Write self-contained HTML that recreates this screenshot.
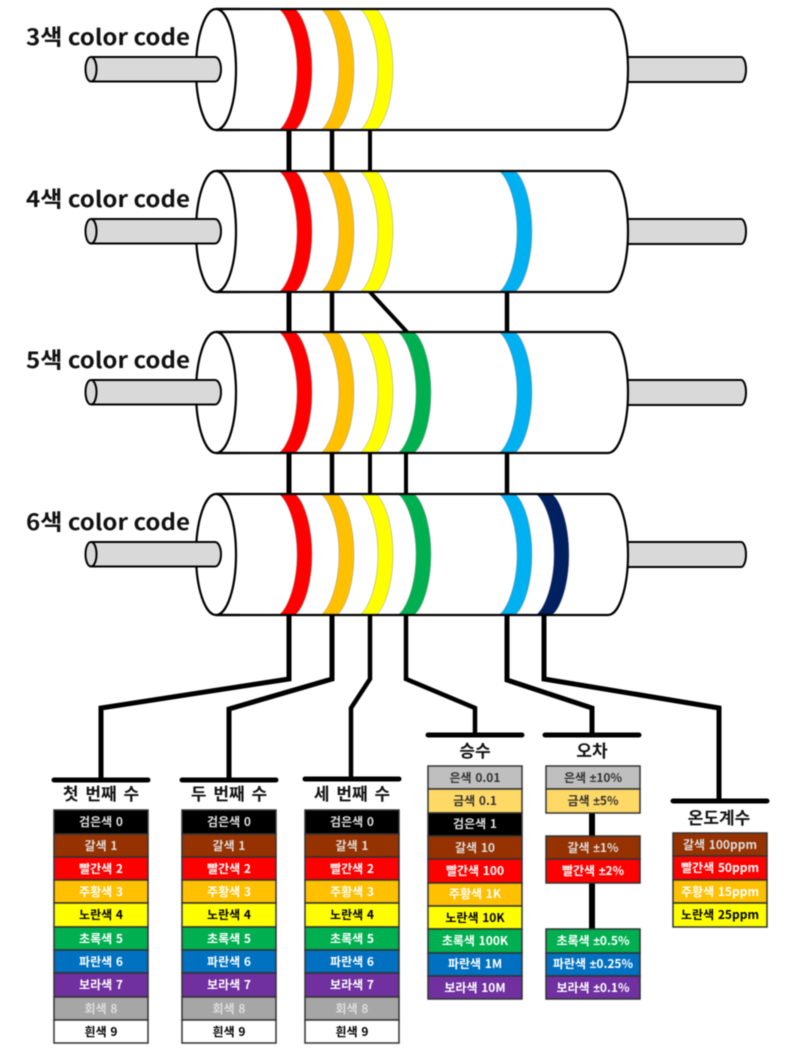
<!DOCTYPE html>
<html><head><meta charset="utf-8">
<style>
html,body{margin:0;padding:0;background:#fff;width:800px;height:1060px;overflow:hidden}
svg{display:block;filter:blur(0.45px)}
text{font-family:"Noto Sans CJK KR","Liberation Sans",sans-serif;font-weight:700;text-anchor:middle}
.lab{font-size:22px;text-anchor:start;fill:#111}
.ti{font-size:17px;fill:#111;word-spacing:3px}
.c text{font-size:12px;word-spacing:1px}
.c tspan{font-family:"Liberation Sans",sans-serif}
.w{fill:#fff}.k{fill:#000}.d{fill:#333}.g{fill:#ddd}
.r rect{stroke:#333;stroke-width:1.5}
</style></head><body>
<svg width="800" height="1060" viewBox="0 0 800 1060" xmlns="http://www.w3.org/2000/svg">
<defs>
<g id="rightlead"><path d="M626,57H741A5,12.500 0 0 1 741,82H626Z" fill="#d9d9d9" stroke="#000" stroke-width="2"/></g>
<g id="body">
<path d="M216,9H608A20,60.500 0 0 1 608,130H216Z" fill="#fff"/>
</g>
<g id="outline">
<path d="M216,9H608A20,60.500 0 0 1 608,130H216" fill="none" stroke="#000" stroke-width="2.2"/>
<ellipse cx="216" cy="69.500" rx="20" ry="60.500" fill="#fff" stroke="#000" stroke-width="2.2"/>
<path d="M216,9H240M216,130H240" stroke="#000" stroke-width="2.200"/>
<path d="M91,57H215A6,12.250 0 0 1 215,81.500H91" fill="#d9d9d9" stroke="#000" stroke-width="2"/>
<ellipse cx="91" cy="69.250" rx="5.500" ry="12.250" fill="#d9d9d9" stroke="#000" stroke-width="2"/>
</g>
<path id="band" d="M0,9.500c7.500,5.500 17.500,29 17.500,60c0,31 -10,54.500 -17.500,60h16c7.500,-5.500 16.500,-29 16.500,-60c0,-31 -9,-54.500 -16.500,-60z" stroke="#999" stroke-width=".5"/>
<g id="bands3">
<use href="#band" x="279.500" fill="#f00"/>
<use href="#band" x="321.500" fill="#ffc000"/>
<use href="#band" x="360.500" fill="#ff0"/>
</g>
<use id="bl" href="#band" x="499.500" fill="#00b0f0"/>
<use id="gr" href="#band" x="398.500" fill="#00b050"/>
</defs>

<!-- connectors -->
<g fill="none" stroke="#000" stroke-linejoin="miter">
<path stroke-width="5" d="M289,130V171M289,292V332M289,453V494"/>
<path stroke-width="4.500" d="M332,130V171M332,292V332M332,453V494"/>
<path stroke-width="4" d="M370,130V171M370,453V494M406,453V494"/>
<path stroke-width="4" d="M370,292L407,332"/>
<path stroke-width="4.500" d="M507,292V332M507,453V494"/>
<path stroke-width="5" d="M289,614V679L101,708V779"/>
<path stroke-width="5" d="M332,614V679L229,709V779"/>
<path stroke-width="4.500" d="M370,614V679L351,708V779"/>
<path stroke-width="4.500" d="M406,614V679L475,708V735"/>
<path stroke-width="5" d="M507,614V680L592,708V735"/>
<path stroke-width="5" d="M544,614V679L719,708V801"/>
<path stroke-width="6" d="M592,813V929"/>
</g>
<g stroke="#000" stroke-width="5" stroke-linecap="round">
<path d="M54,780H148M182,780H276M305,779H399M428,735H522M545,735H639M673,801H767"/>
</g>

<!-- resistor 1 -->
<g>
<use href="#rightlead"/><use href="#body"/><use href="#bands3"/>
<use href="#outline"/>
</g>
<!-- resistor 2 -->
<g transform="translate(0,162)">
<use href="#rightlead"/><use href="#body"/><use href="#bands3"/><use href="#bl"/>
<use href="#outline"/>
</g>
<!-- resistor 3 -->
<g transform="translate(0,323)">
<use href="#rightlead"/><use href="#body"/><use href="#bands3"/><use href="#bl"/><use href="#gr"/>
<use href="#outline"/>
</g>
<!-- resistor 4 -->
<g transform="translate(0,485)">
<use href="#rightlead"/><use href="#body"/><use href="#bands3"/><use href="#bl"/><use href="#gr"/>
<use href="#band" x="536.500" fill="#002060"/>
<use href="#outline"/>
</g>

<!-- labels -->
<text class="lab" x="26" y="45" textLength="164" lengthAdjust="spacingAndGlyphs">3색 color code</text>
<text class="lab" x="26" y="207" textLength="164" lengthAdjust="spacingAndGlyphs">4색 color code</text>
<text class="lab" x="26" y="368" textLength="164" lengthAdjust="spacingAndGlyphs">5색 color code</text>
<text class="lab" x="26" y="530" textLength="164" lengthAdjust="spacingAndGlyphs">6색 color code</text>

<text class="ti" x="101" y="800">첫 번째 수</text>
<text class="ti" x="229" y="800">두 번째 수</text>
<text class="ti" x="352" y="800">세 번째 수</text>
<text class="ti" x="475" y="757">승수</text>
<text class="ti" x="592" y="757">오차</text>
<text class="ti" x="719" y="824">온도계수</text>

<!-- tables -->
<g class="r">
<rect x="54" y="810" width="94" height="24" fill="#000"/><rect x="54" y="834" width="94" height="23" fill="#963200"/><rect x="54" y="857" width="94" height="23" fill="#f00"/><rect x="54" y="880" width="94" height="23" fill="#ffc000"/><rect x="54" y="903" width="94" height="24" fill="#ff0"/><rect x="54" y="927" width="94" height="23" fill="#00b050"/><rect x="54" y="950" width="94" height="23" fill="#0070c0"/><rect x="54" y="973" width="94" height="24" fill="#7030a0"/><rect x="54" y="997" width="94" height="23" fill="#a6a6a6"/><rect x="54" y="1020" width="94" height="23" fill="#fff"/>
<rect x="182" y="810" width="94" height="24" fill="#000"/><rect x="182" y="834" width="94" height="23" fill="#963200"/><rect x="182" y="857" width="94" height="23" fill="#f00"/><rect x="182" y="880" width="94" height="23" fill="#ffc000"/><rect x="182" y="903" width="94" height="24" fill="#ff0"/><rect x="182" y="927" width="94" height="23" fill="#00b050"/><rect x="182" y="950" width="94" height="23" fill="#0070c0"/><rect x="182" y="973" width="94" height="24" fill="#7030a0"/><rect x="182" y="997" width="94" height="23" fill="#a6a6a6"/><rect x="182" y="1020" width="94" height="23" fill="#fff"/>
<rect x="305" y="810" width="94" height="24" fill="#000"/><rect x="305" y="834" width="94" height="23" fill="#963200"/><rect x="305" y="857" width="94" height="23" fill="#f00"/><rect x="305" y="880" width="94" height="23" fill="#ffc000"/><rect x="305" y="903" width="94" height="24" fill="#ff0"/><rect x="305" y="927" width="94" height="23" fill="#00b050"/><rect x="305" y="950" width="94" height="23" fill="#0070c0"/><rect x="305" y="973" width="94" height="24" fill="#7030a0"/><rect x="305" y="997" width="94" height="23" fill="#a6a6a6"/><rect x="305" y="1020" width="94" height="23" fill="#fff"/>
<rect x="428" y="766" width="94" height="23" fill="#bfbfbf"/><rect x="428" y="789" width="94" height="24" fill="#ffd966"/><rect x="428" y="813" width="94" height="23" fill="#000"/><rect x="428" y="836" width="94" height="23" fill="#963200"/><rect x="428" y="859" width="94" height="24" fill="#f00"/><rect x="428" y="883" width="94" height="23" fill="#ffc000"/><rect x="428" y="906" width="94" height="23" fill="#ff0"/><rect x="428" y="929" width="94" height="24" fill="#00b050"/><rect x="428" y="953" width="94" height="23" fill="#0070c0"/><rect x="428" y="976" width="94" height="23" fill="#7030a0"/>
<rect x="546" y="766" width="94" height="23" fill="#bfbfbf"/><rect x="546" y="789" width="94" height="24" fill="#ffd966"/>
<rect x="546" y="836" width="94" height="23" fill="#963200"/><rect x="546" y="859" width="94" height="24" fill="#f00"/>
<rect x="546" y="929" width="94" height="24" fill="#00b050"/><rect x="546" y="953" width="94" height="23" fill="#0070c0"/><rect x="546" y="976" width="94" height="23" fill="#7030a0"/>
<rect x="673" y="833" width="94" height="23" fill="#963200"/><rect x="673" y="856" width="94" height="24" fill="#f00"/><rect x="673" y="880" width="94" height="23" fill="#ffc000"/><rect x="673" y="903" width="94" height="24" fill="#ff0"/>
</g>

<g class="c">
<text class="g" x="101" y="826">검은색 0</text><text class="g" x="101" y="850">갈색 1</text><text class="w" x="101" y="873">빨간색 2</text><text class="w" x="101" y="896">주황색 3</text><text class="k" x="101" y="919">노란색 4</text><text class="w" x="101" y="943">초록색 5</text><text class="w" x="101" y="966">파란색 6</text><text class="w" x="101" y="989">보라색 7</text><text class="g" x="101" y="1013">회색 8</text><text class="k" x="101" y="1036">흰색 9</text>
<text class="g" x="229" y="826">검은색 0</text><text class="g" x="229" y="850">갈색 1</text><text class="w" x="229" y="873">빨간색 2</text><text class="w" x="229" y="896">주황색 3</text><text class="k" x="229" y="919">노란색 4</text><text class="w" x="229" y="943">초록색 5</text><text class="w" x="229" y="966">파란색 6</text><text class="w" x="229" y="989">보라색 7</text><text class="g" x="229" y="1013">회색 8</text><text class="k" x="229" y="1036">흰색 9</text>
<text class="g" x="352" y="826">검은색 0</text><text class="g" x="352" y="850">갈색 1</text><text class="w" x="352" y="873">빨간색 2</text><text class="w" x="352" y="896">주황색 3</text><text class="k" x="352" y="919">노란색 4</text><text class="w" x="352" y="943">초록색 5</text><text class="w" x="352" y="966">파란색 6</text><text class="w" x="352" y="989">보라색 7</text><text class="g" x="352" y="1013">회색 8</text><text class="k" x="352" y="1036">흰색 9</text>
<text class="d" x="475" y="782">은색 0.01</text><text class="d" x="475" y="805">금색 0.1</text><text class="g" x="475" y="828">검은색 1</text><text class="g" x="475" y="852">갈색 10</text><text class="w" x="475" y="875">빨간색 100</text><text class="w" x="475" y="898">주황색 1K</text><text class="k" x="475" y="922">노란색 10K</text><text class="w" x="475" y="945">초록색 100K</text><text class="w" x="475" y="968">파란색 1M</text><text class="w" x="475" y="992">보라색 10M</text>
<text class="d" x="593" y="782">은색 <tspan>±</tspan>10%</text><text class="d" x="593" y="805">금색 <tspan>±</tspan>5%</text><text class="g" x="593" y="852">갈색 <tspan>±</tspan>1%</text><text class="w" x="593" y="875">빨간색 <tspan>±</tspan>2%</text><text class="w" x="593" y="945">초록색 <tspan>±</tspan>0.5%</text><text class="w" x="593" y="968">파란색 <tspan>±</tspan>0.25%</text><text class="w" x="593" y="992">보라색 <tspan>±</tspan>0.1%</text>
<text class="g" x="720" y="849">갈색 100ppm</text><text class="w" x="720" y="872">빨간색 50ppm</text><text class="w" x="720" y="896">주황색 15ppm</text><text class="k" x="720" y="919">노란색 25ppm</text>
</g>
</svg>
</body></html>
